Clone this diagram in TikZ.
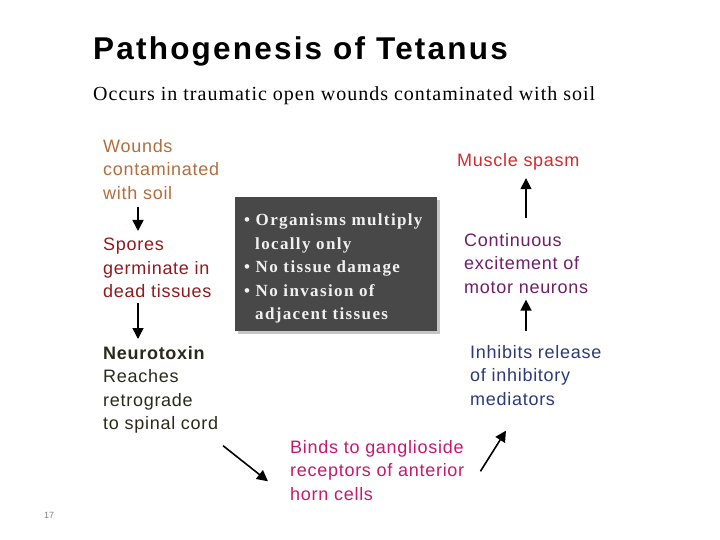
\documentclass[tikz,border=0pt]{standalone}
\usepackage{fontspec}
\setmainfont{Liberation Sans}
\newfontfamily\boxf[LetterSpace=8]{Liberation Serif}
\newfontfamily\titlef[LetterSpace=7]{Liberation Sans}
\newfontfamily\subf[LetterSpace=5]{Liberation Serif}
\newfontfamily\bodyf[LetterSpace=4]{Liberation Sans}
\usetikzlibrary{arrows.meta,calc}
\definecolor{cwound}{HTML}{B36E3E}
\definecolor{cspore}{HTML}{8E1B1E}
\definecolor{cneuro}{HTML}{2A2A1C}
\definecolor{cmuscle}{HTML}{D42A2A}
\definecolor{ccont}{HTML}{6E1F6A}
\definecolor{cinhib}{HTML}{2C3A78}
\definecolor{cbind}{HTML}{C8186E}
\definecolor{cbox}{HTML}{484848}
\begin{document}
\begin{tikzpicture}[x=1pt,y=-1pt,
  txt/.style={anchor=north west, inner sep=0pt, align=left, font=\bodyf\fontsize{18}{23.5}\selectfont},
  arr/.style={-{Triangle[length=11pt,width=11pt]}, line width=1.6pt, black}]
\useasboundingbox (0,0) rectangle (720,540);
\fill[white] (0,0) rectangle (720,540);
% title
\node[anchor=base west, inner sep=0pt] (title) at (93,60) {\titlef\bfseries\fontsize{31.5}{31.5}\selectfont Pathogenesis of Tetanus};
\node[anchor=base west, inner sep=0pt] (sub) at (93,101) {\subf\fontsize{20}{20}\selectfont Occurs in traumatic open wounds contaminated with soil};
% left column
\node[txt, text=cwound] (wounds) at (103,139) {Wounds\\contaminated\\with soil};
\node[txt, text=cspore] (spores) at (103,238) {Spores\\germinate in\\dead tissues};
\node[txt, text=cneuro] (neuro) at (103,346) {\bfseries Neurotoxin\\Reaches\\retrograde\\to spinal cord};
% box
\fill[gray!45] (238,200) rectangle (440,334);
\fill[cbox] (235,197) rectangle (437,331);
\node[anchor=north west, inner sep=0pt, align=left, text=white!94!black, font=\boxf\bfseries\fontsize{17}{23.5}\selectfont] (box) at (244,214)
  {• Organisms multiply\\\hspace*{11pt}locally only\\• No tissue damage\\• No invasion of\\\hspace*{11pt}adjacent tissues};
% right column
\node[txt, text=cmuscle] (muscle) at (457,153) {Muscle spasm};
\node[txt, text=ccont] (cont) at (464,233) {Continuous\\excitement of\\motor neurons};
\node[txt, text=cinhib] (inhib) at (470,345) {Inhibits release\\of inhibitory\\mediators};
% bottom
\node[txt, text=cbind] (binds) at (290,440) {Binds to ganglioside\\receptors of anterior\\horn cells};
% arrows
\draw[arr] ($(wounds.south west)+(35,7)$) -- ($(spores.north west)+(35,-7)$);
\draw[arr] ($(spores.south west)+(35,5)$) -- ($(neuro.north west)+(35,-7)$);
\draw[arr] ($(cont.north west)+(62,-15)$) -- ($(muscle.south west)+(69,8)$);
\draw[arr] ($(inhib.north west)+(56,-14)$) -- ($(cont.south west)+(62,6)$);
\coordinate (n1) at ($(neuro.south west)+(120,12)$);
\coordinate (b1) at ($(binds.west)+(-22,11)$);
\draw[arr] (n1) -- (b1);
\coordinate (b2) at ($(binds.east)+(16,1)$);
\coordinate (i2) at ($(inhib.south west)+(36,25)$);
\draw[arr] (b2) -- (i2);
% page number
\node[anchor=base west, inner sep=0pt, text=gray, font=\fontsize{9}{9}\selectfont] (pg) at (44,518) {17};
\end{tikzpicture}
\end{document}
